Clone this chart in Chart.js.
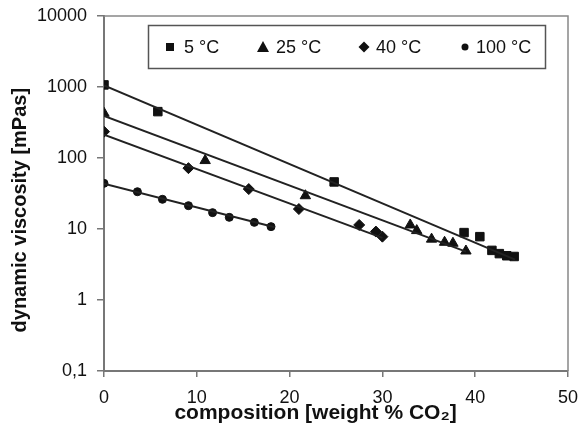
<!DOCTYPE html>
<html lang="en">
<head>
<meta charset="UTF-8">
<title>Dynamic viscosity vs composition</title>
<script src="https://cdn.jsdelivr.net/npm/chart.js"></script>
<style>
  html, body { margin: 0; padding: 0; background: #fff; }
</style>
</head>
<body>
<canvas id="viscChart" width="579" height="434"></canvas>
<script>
// measured points, composition in weight % CO2, viscosity in mPas
const x5 = [0, 5.8, 24.8, 38.8, 40.5, 41.8, 42.6, 43.4, 44.2];
const y5 = [1070, 450, 46, 8.9, 7.8, 5.0, 4.5, 4.2, 4.1];
const x25 = [0, 10.9, 21.7, 33.0, 33.7, 35.3, 36.7, 37.6, 39.0];
const y25 = [427, 92, 29.4, 11.4, 9.5, 7.2, 6.5, 6.3, 4.9];
const x40 = [0, 9.1, 15.6, 21.0, 27.5, 29.3, 30.0];
const y40 = [235, 72, 36.5, 19.1, 11.4, 9.2, 7.8];
const x100 = [0, 3.6, 6.3, 9.1, 11.7, 13.5, 16.2, 18.0];
const y100 = [44, 33.5, 26.2, 21.3, 17, 14.6, 12.4, 10.8];

// fitted lines (start / end)
const fitX5 = [0, 44.3];
const fitY5 = [1050, 3.7];
const fitX25 = [0, 39];
const fitY25 = [392, 4.8];
const fitX40 = [0, 30];
const fitY40 = [213, 7.5];
const fitX100 = [0, 18.4];
const fitY100 = [43.5, 10.6];

const seriesLabels = ["5 °C", "25 °C", "40 °C", "100 °C"];
const yTicks = [0.1, 1, 10, 100, 1000, 10000];

const pts = (xs, ys) => xs.map((x, i) => ({ x: x, y: ys[i] }));

function markerSet(label, xs, ys, style, r) {
  return {
    type: "scatter",
    label: label,
    data: pts(xs, ys),
    pointStyle: style,
    pointRadius: r,
    pointHoverRadius: r,
    backgroundColor: "#111",
    borderColor: "#111",
    borderWidth: 1,
  };
}

function fitLine(xs, ys) {
  return {
    type: "line",
    label: "",
    data: pts(xs, ys),
    borderColor: "#222",
    borderWidth: 2,
    pointRadius: 0,
    fill: false,
  };
}

function shape(ctx, kind, x, y) {
  ctx.beginPath();
  if (kind === "rect") {
    ctx.rect(x - 4, y - 4, 8, 8);
  } else if (kind === "triangle") {
    ctx.moveTo(x, y - 6);
    ctx.lineTo(x + 6, y + 5);
    ctx.lineTo(x - 6, y + 5);
    ctx.closePath();
  } else if (kind === "rectRot") {
    ctx.moveTo(x, y - 5.5);
    ctx.lineTo(x + 5.5, y);
    ctx.lineTo(x, y + 5.5);
    ctx.lineTo(x - 5.5, y);
    ctx.closePath();
  } else {
    ctx.arc(x, y, 3.5, 0, Math.PI * 2);
  }
  ctx.fill();
}

const legendItems = [
  { label: seriesLabels[0], kind: "rect", mx: 170, tx: 184 },
  { label: seriesLabels[1], kind: "triangle", mx: 263, tx: 276 },
  { label: seriesLabels[2], kind: "rectRot", mx: 364, tx: 376 },
  { label: seriesLabels[3], kind: "circle", mx: 465, tx: 476 },
];

const boxLegend = {
  id: "boxLegend",
  afterDraw(chart) {
    const ctx = chart.ctx;
    const area = chart.chartArea;
    ctx.save();
    // frame top / right
    ctx.strokeStyle = "#888";
    ctx.lineWidth = 1.5;
    ctx.beginPath();
    ctx.moveTo(area.left, area.top);
    ctx.lineTo(area.right, area.top);
    ctx.lineTo(area.right, area.bottom);
    ctx.stroke();
    // legend box
    ctx.strokeStyle = "#555";
    ctx.strokeRect(148.5, 25.5, 397, 43);
    ctx.fillStyle = "#111";
    ctx.font = "18px Arial, 'Liberation Sans', sans-serif";
    ctx.textBaseline = "middle";
    legendItems.forEach((it) => {
      shape(ctx, it.kind, it.mx, 47);
      ctx.fillText(it.label, it.tx, 48);
    });
    ctx.restore();
  },
};

new Chart(document.getElementById("viscChart"), {
  data: {
    datasets: [
      fitLine(fitX5, fitY5),
      fitLine(fitX25, fitY25),
      fitLine(fitX40, fitY40),
      fitLine(fitX100, fitY100),
      markerSet(seriesLabels[0], x5, y5, "rect", 6),
      markerSet(seriesLabels[1], x25, y25, "triangle", 6),
      markerSet(seriesLabels[2], x40, y40, "rectRot", 5.5),
      markerSet(seriesLabels[3], x100, y100, "circle", 4),
    ],
  },
  options: {
    responsive: false,
    animation: false,
    layout: { padding: { top: 16, right: 11, left: 0, bottom: 0 } },
    plugins: {
      legend: { display: false },
      tooltip: { enabled: false },
    },
    scales: {
      x: {
        type: "linear",
        min: 0,
        max: 50,
        ticks: {
          stepSize: 10,
          color: "#111",
          padding: 10,
          font: { family: "Arial, 'Liberation Sans', sans-serif", size: 18 },
        },
        grid: { drawOnChartArea: false, tickLength: 6, color: "#777", lineWidth: 1.5 },
        border: { color: "#777", width: 2 },
        title: {
          display: true,
          text: "composition [weight % CO₂]       ",
          color: "#111",
          padding: { top: 0, bottom: 8 },
          font: { family: "Arial, 'Liberation Sans', sans-serif", size: 21, weight: "bold" },
        },
        afterFit: (axis) => {
          axis.height = 63;
          axis.paddingLeft = 0;
          axis.paddingRight = 0;
        },
      },
      y: {
        type: "logarithmic",
        min: 0.1,
        max: 10000,
        afterBuildTicks: (axis) => {
          axis.ticks = yTicks.map((v) => ({ value: v }));
        },
        ticks: {
          color: "#111",
          padding: 10,
          autoSkip: false,
          font: { family: "Arial, 'Liberation Sans', sans-serif", size: 18 },
          callback: (v) => String(v).replace(".", ","),
        },
        grid: { drawOnChartArea: false, tickLength: 7, color: "#777", lineWidth: 1.5 },
        border: { color: "#777", width: 2 },
        title: {
          display: true,
          text: "dynamic viscosity [mPas]      ",
          color: "#111",
          padding: { top: 8, bottom: 0 },
          font: { family: "Arial, 'Liberation Sans', sans-serif", size: 20, weight: "bold" },
        },
        afterFit: (axis) => {
          axis.width = 104;
          axis.paddingTop = 0;
          axis.paddingBottom = 0;
        },
      },
    },
  },
  plugins: [boxLegend],
});
</script>
</body>
</html>
